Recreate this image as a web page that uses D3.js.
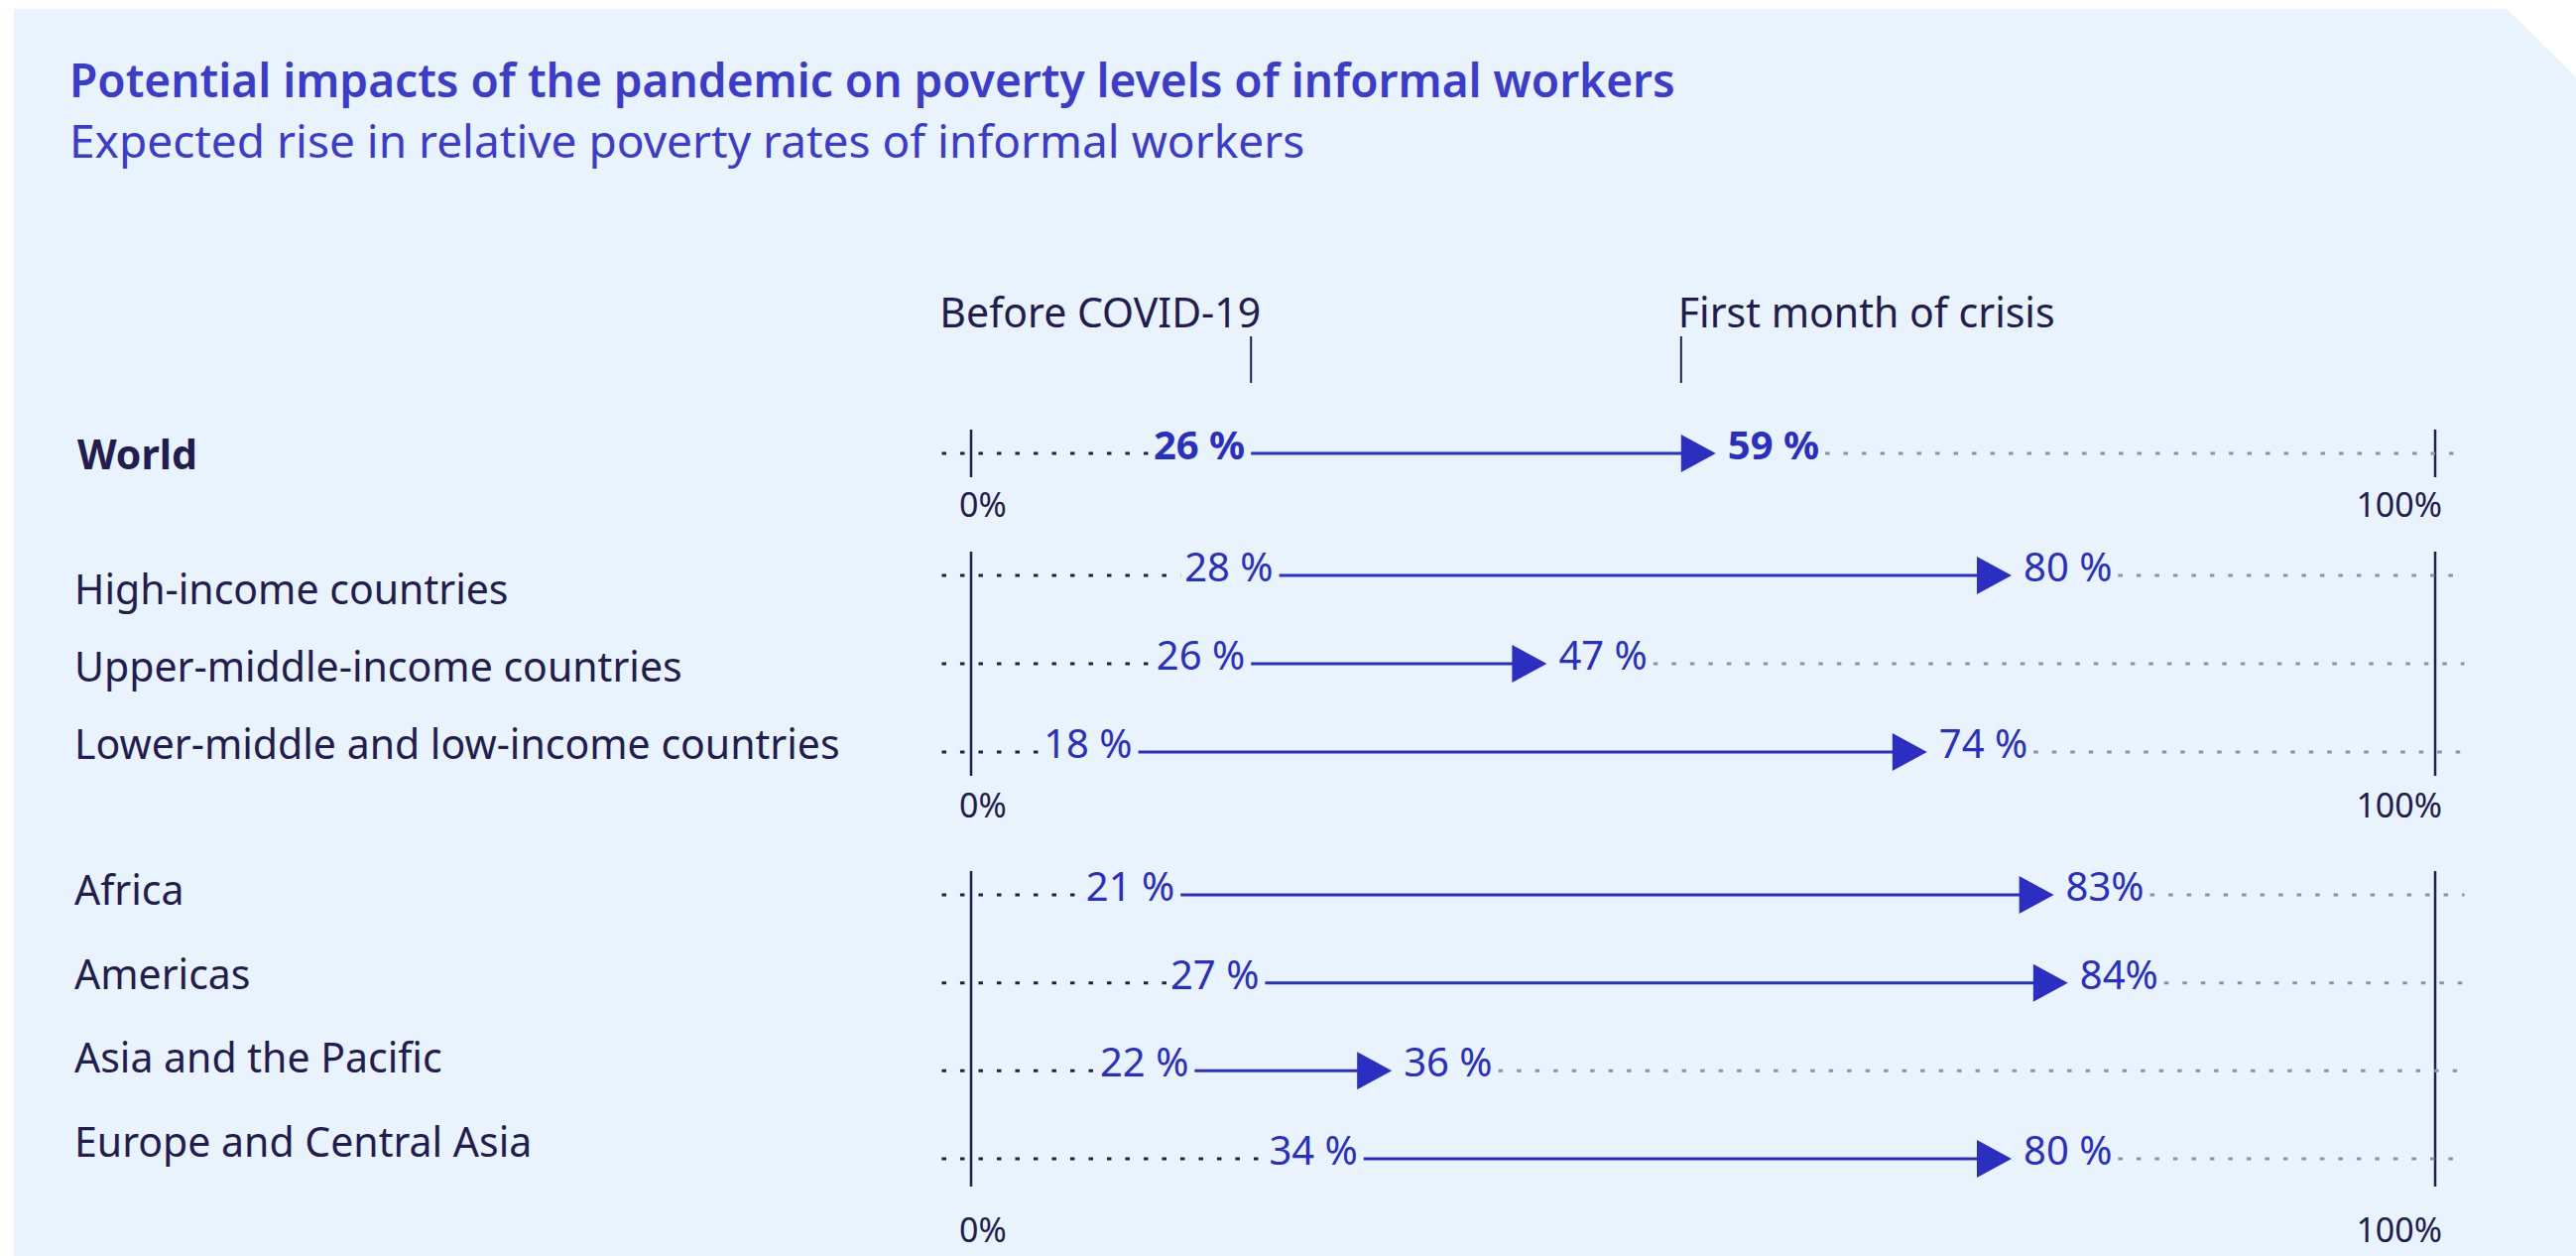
<!DOCTYPE html>
<html>
<head>
<meta charset="utf-8">
<script src="https://cdn.jsdelivr.net/npm/d3@7"></script>
<style>
  body { margin: 0; background: #ffffff; }
  svg { display: block; font-family: "Noto Sans", "Open Sans", sans-serif; }
</style>
</head>
<body>
<div id="chart"></div>
<script>
'use strict';

/*** Data */
const categories = [
    "World",
    "High-income countries",
    "Upper-middle-income countries",
    "Lower-middle and low-income countries",
    "Africa",
    "Americas",
    "Asia and the Pacific",
    "Europe and Central Asia"
];
const groupOf = [0, 1, 1, 1, 2, 2, 2, 2];         // which block each row belongs to
const beforeCovid = [26, 28, 26, 18, 21, 27, 22, 34];
const firstMonth = [59, 80, 47, 74, 83, 84, 36, 80];
const beforeText = ["26 %", "28 %", "26 %", "18 %", "21 %", "27 %", "22 %", "34 %"];
const firstText = ["59 %", "80 %", "47 %", "74 %", "83%", "84%", "36 %", "80 %"];
const headers = ["Before COVID-19", "First month of crisis"];
const frameTicks = [0, 100];

const title = "Potential impacts of the pandemic on poverty levels of informal workers";
const subtitle = "Expected rise in relative poverty rates of informal workers";

/*** Layout */
const w = 2597;
const h = 1266;
const groupTop = [457, 580, 902];      // y of first arrow in each block
const groupBottom = [457, 758, 1168];  // y of last arrow in each block
const labelTop = [473, 609, 912];      // baseline of first row label in each block
const labelBottom = [473, 765, 1166];  // baseline of last row label in each block
const tickLabelDy = [64, 66, 84];      // "0%" / "100%" below last row

const ink = "#231c4f";
const blue = "#2a2fc2";
const titleBlue = "#3b3bcc";

const svg = d3.select("#chart")
    .append("svg")
    .attr("width", w)
    .attr("height", h);

/* panel with the clipped corner */
svg.append("path")
    .attr("d", "M14,9 H2527 L2597,78 V1266 H14 Z")
    .attr("fill", "#e8f3fd");

/* titles */
svg.append("text")
    .attr("x", 70).attr("y", 98)
    .attr("font-size", 46).attr("font-weight", 600)
    .attr("fill", titleBlue)
    .text(title);

svg.append("text")
    .attr("x", 70).attr("y", 159)
    .attr("font-size", 46)
    .attr("fill", titleBlue)
    .text(subtitle);

/*** Scales */
// frame of each block: the 0% and 100% guides
const frame = d3.scaleLinear().domain([0, 100]).range([979, 2455]);
// the arrows in the original figure sit on a compressed scale inside the frame
const x = d3.scaleLinear().domain([0, 100]).range([892, 2312]);

const blockCats = (g) => categories.filter((c, i) => groupOf[i] === g);
const yGroups = [0, 1, 2].map(g =>
    d3.scalePoint().domain(blockCats(g)).range([groupTop[g], groupBottom[g]])
);
const yLabels = [0, 1, 2].map(g =>
    d3.scalePoint().domain(blockCats(g)).range([labelTop[g], labelBottom[g]])
);

const rows = categories.map((c, i) => ({
    name: c,
    i: i,
    y: yGroups[groupOf[i]](c),
    ly: yLabels[groupOf[i]](c),
    start: beforeCovid[i],
    end: firstMonth[i],
    startText: beforeText[i],
    endText: firstText[i],
    bold: i === 0
}));

/*** Column headers, tied to the World arrow */
const headLen = 35;
const headX = [x(beforeCovid[0]), x(firstMonth[0]) - headLen];

svg.selectAll(".head-tick")
    .data(headX)
    .enter()
    .append("line")
    .attr("x1", d => d).attr("x2", d => d)
    .attr("y1", 339).attr("y2", 386)
    .attr("stroke", ink)
    .attr("stroke-width", 2);

svg.selectAll(".head-label")
    .data(headers)
    .enter()
    .append("text")
    .attr("x", (d, i) => i === 0 ? headX[0] + 10 : headX[1] - 3)
    .attr("y", 330)
    .attr("text-anchor", (d, i) => i === 0 ? "end" : "start")
    .attr("font-size", 41)
    .attr("fill", ink)
    .text(d => d);

/*** Row labels */
svg.selectAll(".row-label")
    .data(rows)
    .enter()
    .append("text")
    .attr("x", d => d.bold ? 78 : 75)
    .attr("y", d => d.ly)
    .attr("font-size", 41)
    .attr("font-weight", d => d.bold ? 700 : 400)
    .attr("fill", ink)
    .text(d => d.name);

/*** Frames: 0% and 100% guides per block */
[0, 1, 2].forEach(g => {
    const gf = svg.append("g");
    gf.selectAll("line")
        .data(frameTicks)
        .enter()
        .append("line")
        .attr("x1", d => frame(d)).attr("x2", d => frame(d))
        .attr("y1", groupTop[g] - 24)
        .attr("y2", groupBottom[g] + (g === 2 ? 28 : 24))
        .attr("stroke", ink)
        .attr("stroke-width", 2.5);
    gf.selectAll("text")
        .data(frameTicks)
        .enter()
        .append("text")
        .attr("x", d => d === 0 ? frame(d) - 12 : frame(d) + 7)
        .attr("y", groupBottom[g] + tickLabelDy[g])
        .attr("text-anchor", d => d === 0 ? "start" : "end")
        .attr("font-size", 34)
        .attr("fill", ink)
        .text(d => d + "%");
});

/*** Arrows */
const rowG = svg.selectAll(".row")
    .data(rows)
    .enter()
    .append("g")
    .attr("class", "row");

const startLabels = rowG.append("text")
    .attr("x", d => x(d.start) - 6)
    .attr("y", d => d.y + 6)
    .attr("text-anchor", "end")
    .attr("font-size", 40)
    .attr("font-weight", d => d.bold ? 700 : 400)
    .attr("fill", blue)
    .text(d => d.startText);

const endLabels = rowG.append("text")
    .attr("x", d => x(d.end) + 12)
    .attr("y", d => d.y + 6)
    .attr("font-size", 40)
    .attr("font-weight", d => d.bold ? 700 : 400)
    .attr("fill", blue)
    .text(d => d.endText);

// dotted guides on either side of the labels
startLabels.each(function (d) {
    d.startLeft = x(d.start) - 6 - this.getComputedTextLength();
});
endLabels.each(function (d) {
    d.endRight = x(d.end) + 12 + this.getComputedTextLength();
});

rowG.insert("line", "text")
    .attr("x1", frame(-2))
    .attr("x2", d => d.startLeft - 4)
    .attr("y1", d => d.y).attr("y2", d => d.y)
    .attr("stroke", ink)
    .attr("stroke-width", 3)
    .attr("stroke-dasharray", "4.5,14");

rowG.insert("line", "text")
    .attr("x1", d => d.endRight + 6)
    .attr("x2", frame(102))
    .attr("y1", d => d.y).attr("y2", d => d.y)
    .attr("stroke", "#8c90aa")
    .attr("stroke-width", 3)
    .attr("stroke-dasharray", "4.5,14");

rowG.append("line")
    .attr("x1", d => x(d.start))
    .attr("x2", d => x(d.end) - headLen + 1)
    .attr("y1", d => d.y).attr("y2", d => d.y)
    .attr("stroke", blue)
    .attr("stroke-width", 3);

rowG.append("path")
    .attr("d", d => {
        const tip = x(d.end);
        return "M" + tip + "," + d.y +
               "L" + (tip - headLen) + "," + (d.y - 19) +
               "L" + (tip - headLen) + "," + (d.y + 19) + "Z";
    })
    .attr("fill", blue);
</script>
</body>
</html>
